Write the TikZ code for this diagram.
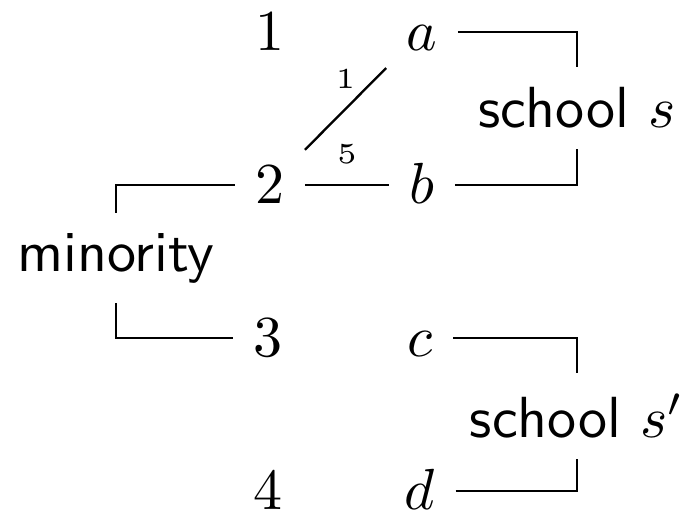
\documentclass[tikz,border=0pt]{standalone}
\begin{document}
\begin{tikzpicture}[x=0.1724pt,y=-0.1724pt,
  rownode/.style={text height=1.5ex,text depth=0pt},
  lbl/.style={font=\tiny,above}]
\useasboundingbox (0,0) rectangle (683,517);
\node[rownode] (n1) at (270,32) {$1$};
\node[rownode] (a) at (422,32) {$a$};
\node[rownode] (n2) at (270,185) {$2$};
\node[rownode] (b) at (422,185) {$b$};
\node[rownode] (n3) at (268,338) {$3$};
\node[rownode] (c) at (420,338) {$c$};
\node[rownode] (n4) at (268,491) {$4$};
\node[rownode] (d) at (420,491) {$d$};
\node (schoolS) at (577,108) {\textsf{school} $s$};
\node (schoolT) at (577,416) {\textsf{school} $s'$};
\node (minority) at (116,258) {\textsf{minority}};
\draw (n2) -- node[lbl] {1} (a);
\draw (n2) -- node[lbl] {5} (b);
\draw (a) -| (schoolS.north);
\draw (b) -| (schoolS.south);
\draw (c) -| (schoolT.north);
\draw (d) -| (schoolT.south);
\draw (n2) -| (minority.north);
\draw (n3) -| (minority.south);
\end{tikzpicture}
\end{document}
